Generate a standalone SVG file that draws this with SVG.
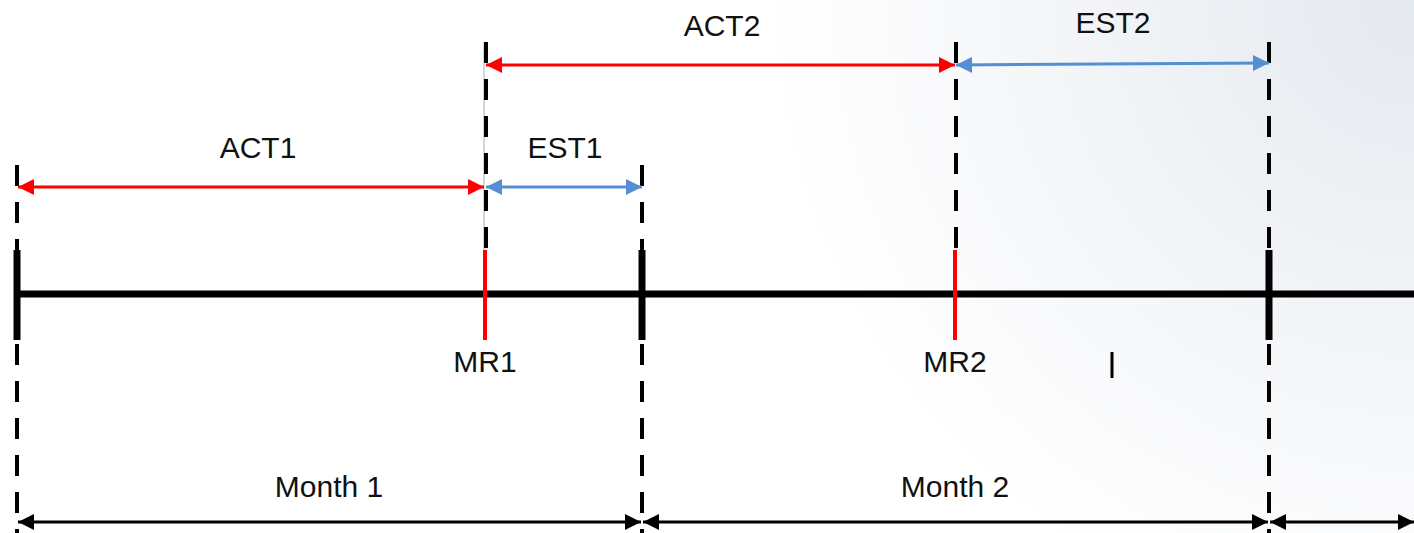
<svg xmlns="http://www.w3.org/2000/svg" width="1414" height="533" viewBox="0 0 1414 533">
  <defs>
    <radialGradient id="bg" cx="1414" cy="0" r="650" gradientUnits="userSpaceOnUse">
      <stop offset="0" stop-color="#e4e9ee"/>
      <stop offset="0.45" stop-color="#f1f3f6"/>
      <stop offset="1" stop-color="#ffffff"/>
    </radialGradient>
    <marker id="redHead" viewBox="0 0 10 10" refX="10" refY="5" markerWidth="20" markerHeight="16" markerUnits="userSpaceOnUse" orient="auto-start-reverse">
      <path d="M0,0 L10,5 L0,10 Z" fill="#ff0000"/>
    </marker>
    <marker id="blueHead" viewBox="0 0 10 10" refX="10" refY="5" markerWidth="20" markerHeight="16" markerUnits="userSpaceOnUse" orient="auto-start-reverse">
      <path d="M0,0 L10,5 L0,10 Z" fill="#558ed5"/>
    </marker>
    <marker id="blackHead" viewBox="0 0 10 10" refX="10" refY="5" markerWidth="20" markerHeight="16" markerUnits="userSpaceOnUse" orient="auto-start-reverse">
      <path d="M0,0 L10,5 L0,10 Z" fill="#000000"/>
    </marker>
  </defs>
  <style>
    text { font-family: "Liberation Sans", Arial, sans-serif; font-size: 30px; fill: #111111; text-anchor: middle; }
    .dash { stroke: #000000; stroke-width: 4; stroke-dasharray: 21 16; fill: none; }
    .tick { stroke: #000000; stroke-width: 7; }
    .mr { stroke: #ff0000; stroke-width: 4; }
    .act { stroke: #ff0000; stroke-width: 3; marker-start: url(#redHead); marker-end: url(#redHead); }
    .est { stroke: #558ed5; stroke-width: 3; marker-start: url(#blueHead); marker-end: url(#blueHead); }
    .month { stroke: #000000; stroke-width: 3; marker-start: url(#blackHead); marker-end: url(#blackHead); }
  </style>

  <rect width="1414" height="533" fill="url(#bg)"/>

  <!-- guide lines: dashed extensions of the boundaries -->
  <g id="guides">
    <line class="dash" x1="17" y1="165" x2="17" y2="250"/>
    <line class="dash" x1="17" y1="344" x2="17" y2="533"/>
    <line x1="484" y1="42" x2="484" y2="250" stroke="#c8c8c8" stroke-width="1.5"/>
    <line class="dash" x1="486" y1="42" x2="486" y2="250"/>
    <line class="dash" x1="642" y1="165" x2="642" y2="250"/>
    <line class="dash" x1="642" y1="344" x2="642" y2="533"/>
    <line class="dash" x1="956" y1="42" x2="956" y2="250"/>
    <line class="dash" x1="1269" y1="42" x2="1269" y2="250"/>
    <line class="dash" x1="1269" y1="344" x2="1269" y2="533"/>
  </g>

  <!-- timeline axis with month boundaries and review marks -->
  <g id="timeline">
    <line x1="17" y1="294" x2="1414" y2="294" stroke="#000000" stroke-width="7"/>
    <line class="tick" x1="17" y1="250" x2="17" y2="340"/>
    <line class="tick" x1="642" y1="250" x2="642" y2="340"/>
    <line class="tick" x1="1269" y1="250" x2="1269" y2="340"/>
    <line x1="1112" y1="352" x2="1112" y2="378" stroke="#000000" stroke-width="3"/>
  </g>

  <g id="mr1">
    <line class="mr" x1="485" y1="250" x2="485" y2="340"/>
    <text x="485" y="372">MR1</text>
  </g>
  <g id="mr2">
    <line class="mr" x1="955" y1="250" x2="955" y2="340"/>
    <text x="955" y="372">MR2</text>
  </g>

  <!-- interval spans -->
  <g id="connectors">
    <line class="act" x1="18" y1="187" x2="484" y2="187"/>
    <line class="est" x1="486" y1="187" x2="642" y2="187"/>
    <line class="act" x1="486" y1="65" x2="955" y2="65"/>
    <line class="est" x1="956" y1="65" x2="1269" y2="63"/>
    <line class="month" x1="18" y1="522" x2="641" y2="522"/>
    <line class="month" x1="643" y1="522" x2="1268" y2="522"/>
    <line class="month" x1="1270" y1="522" x2="1414" y2="522"/>
  </g>

  <g id="act1"><text x="258" y="158">ACT1</text></g>
  <g id="est1"><text x="565" y="158">EST1</text></g>
  <g id="act2"><text x="722" y="36">ACT2</text></g>
  <g id="est2"><text x="1113" y="33">EST2</text></g>
  <g id="month1"><text x="329" y="497">Month 1</text></g>
  <g id="month2"><text x="955" y="497">Month 2</text></g>
</svg>
